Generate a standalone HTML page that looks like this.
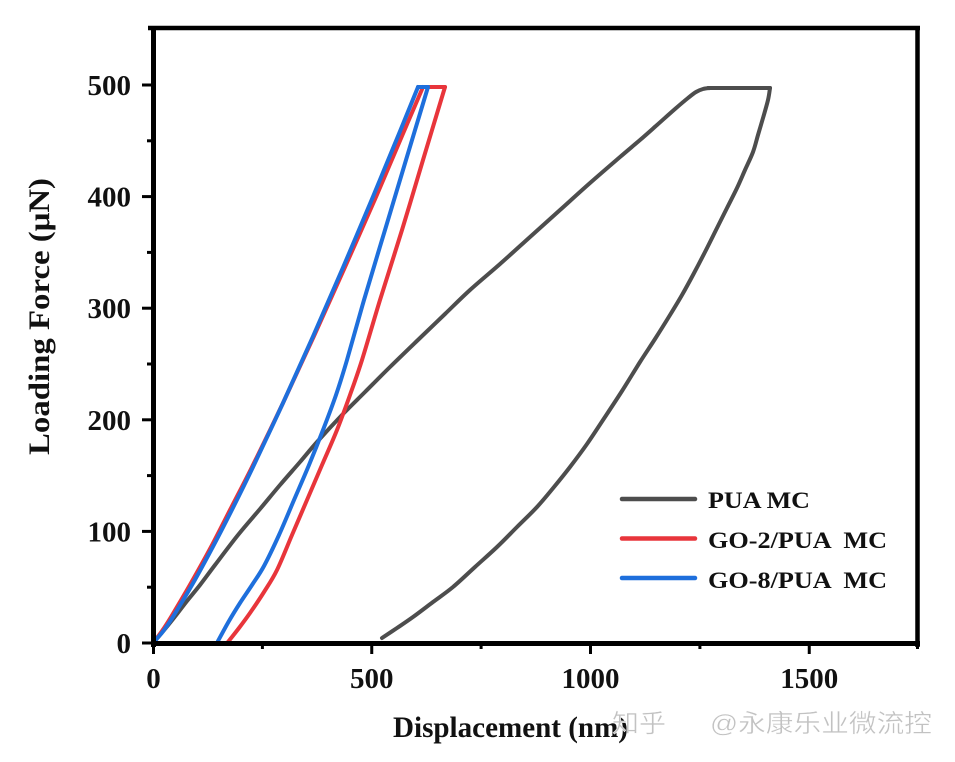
<!DOCTYPE html>
<html>
<head>
<meta charset="utf-8">
<style>
  html, body { margin: 0; padding: 0; background: #ffffff; }
  svg { display: block; }
  .lbl { font-family: "Liberation Serif", serif; font-weight: bold; fill: #111; }
</style>
</head>
<body>
<svg id="chart" width="955" height="762" viewBox="0 0 955 762" xmlns="http://www.w3.org/2000/svg">
  <rect x="0" y="0" width="955" height="762" fill="#ffffff"/>

  <!-- curves -->
  <g fill="none" stroke-width="4" stroke-linejoin="round" stroke-linecap="round">
    <!-- PUA MC -->
    <polyline class="smooth" stroke="#4d4d4d" points="153,643 165,629 177,614 187,601 200,585 215,565 238,535 260,509 280,485 300,462 317,442 342,415 365,392 390,367 420,338 445,314 470,290 500,264 530,237 560,210 590,183 620,157 640,140 657,125 675,109 688,98 696,92 703,89 710,88"/>
    <line x1="708" y1="88" x2="770" y2="88" stroke="#4d4d4d"/>
    <polyline class="smooth" stroke="#4d4d4d" points="770,88 768,100 763,118 758,135 753,152 745,170 737,188 727,208 717,228 705,252 693,275 682,295 670,315 655,339 640,362 622,391 603,420 587,444 570,467 554,487 537,507 517,527 497,547 475,567 453,587 433,602 413,617 397,628 382,638"/>
    <!-- GO-2/PUA MC -->
    <polyline class="smooth" stroke="#e8353b" points="153,643 162,631 171,617 191,583 211,547 231,508 252,467 283,403 314,336 345,267 376,197 402,136 423,87"/>
    <line x1="423" y1="87" x2="445" y2="87" stroke="#e8353b"/>
    <polyline class="smooth" stroke="#e8353b" points="445,87 423,160 402,230 380,300 362,360 350,395 337,430 322,465 307,500 292,535 277,570 264,592 250,613 239,628 228,642"/>
    <!-- GO-8/PUA MC -->
    <polyline class="smooth" stroke="#1e6fdc" points="153,643 163,631.4 173,616.7 193,583.3 213,546.6 233,507.7 253,467 283,403 313,336.4 343,267.5 373,196.6 398,136.2 418,87"/>
    <line x1="418" y1="87" x2="428" y2="87" stroke="#1e6fdc"/>
    <polyline class="smooth" stroke="#1e6fdc" points="428,87 406,160 385,230 364,300 347,360 336,395 323,430 309,465 294,500 279,535 264,566 252,585 240,603 229,621 218,641"/>
  </g>

  <!-- frame -->
  <g stroke="#000" fill="none">
    <line x1="148" y1="28" x2="920" y2="28" stroke-width="4.5"/>
    <line x1="917.5" y1="26" x2="917.5" y2="647" stroke-width="4.5"/>
    <line x1="153.5" y1="26" x2="153.5" y2="647" stroke-width="5"/>
    <line x1="151" y1="643.5" x2="920" y2="643.5" stroke-width="5"/>
  </g>

  <!-- y ticks -->
  <g stroke="#000" stroke-width="3">
    <line x1="142" y1="643" x2="153" y2="643"/>
    <line x1="142" y1="531.4" x2="153" y2="531.4"/>
    <line x1="142" y1="419.8" x2="153" y2="419.8"/>
    <line x1="142" y1="308.2" x2="153" y2="308.2"/>
    <line x1="142" y1="196.6" x2="153" y2="196.6"/>
    <line x1="142" y1="85" x2="153" y2="85"/>
    <line x1="147" y1="587.2" x2="153" y2="587.2"/>
    <line x1="147" y1="475.6" x2="153" y2="475.6"/>
    <line x1="147" y1="364" x2="153" y2="364"/>
    <line x1="147" y1="252.4" x2="153" y2="252.4"/>
    <line x1="147" y1="140.8" x2="153" y2="140.8"/>
  </g>
  <!-- x ticks -->
  <g stroke="#000" stroke-width="3">
    <line x1="153.5" y1="643" x2="153.5" y2="654"/>
    <line x1="371.75" y1="643" x2="371.75" y2="654"/>
    <line x1="590.5" y1="643" x2="590.5" y2="654"/>
    <line x1="809.25" y1="643" x2="809.25" y2="654"/>
    <line x1="262.4" y1="643" x2="262.4" y2="649"/>
    <line x1="481.1" y1="643" x2="481.1" y2="649"/>
    <line x1="699.9" y1="643" x2="699.9" y2="649"/>
    <line x1="917.5" y1="643" x2="917.5" y2="649"/>
  </g>

  <!-- y tick labels -->
  <g class="lbl" font-size="29" text-anchor="end">
    <text x="131" y="653">0</text>
    <text x="131" y="541.4">100</text>
    <text x="131" y="429.8">200</text>
    <text x="131" y="318.2">300</text>
    <text x="131" y="206.6">400</text>
    <text x="131" y="95">500</text>
  </g>
  <!-- x tick labels -->
  <g class="lbl" font-size="29" text-anchor="middle">
    <text x="153.5" y="688">0</text>
    <text x="371.75" y="688">500</text>
    <text x="590.5" y="688">1000</text>
    <text x="809.25" y="688">1500</text>
  </g>

  <!-- axis titles -->
  <text class="lbl" x="393" y="737" font-size="30" textLength="235" lengthAdjust="spacingAndGlyphs">Displacement (nm)</text>
  <text class="lbl" transform="translate(49,455) rotate(-90)" x="0" y="0" font-size="30" textLength="277" lengthAdjust="spacingAndGlyphs">Loading Force (μN)</text>

  <!-- legend -->
  <g stroke-width="4.5" stroke-linecap="round">
    <line x1="622" y1="499" x2="695" y2="499" stroke="#4d4d4d"/>
    <line x1="622" y1="538.5" x2="695" y2="538.5" stroke="#e8353b"/>
    <line x1="622" y1="578" x2="695" y2="578" stroke="#1e6fdc"/>
  </g>
  <g class="lbl" font-size="23">
    <text x="708" y="508" textLength="102" lengthAdjust="spacingAndGlyphs">PUA MC</text>
    <text x="708" y="548" textLength="179" lengthAdjust="spacingAndGlyphs" xml:space="preserve">GO-2/PUA  MC</text>
    <text x="708" y="588" textLength="179" lengthAdjust="spacingAndGlyphs" xml:space="preserve">GO-8/PUA  MC</text>
  </g>

  <!-- watermark -->
  <g font-family="'Liberation Sans', 'Noto Sans CJK SC', sans-serif" font-size="25" fill="#c2c2c2" stroke="#ffffff" stroke-width="0.4">
    <text x="612" y="732" textLength="54" lengthAdjust="spacingAndGlyphs">知乎</text>
    <text x="710" y="732" textLength="222" lengthAdjust="spacingAndGlyphs">@永康乐业微流控</text>
  </g>
</svg>
<script>
(function(){
  var NS = "http://www.w3.org/2000/svg";
  var polys = document.querySelectorAll("polyline.smooth");
  for (var k = 0; k < polys.length; k++) {
    var pl = polys[k];
    var raw = pl.getAttribute("points").trim().split(/\s+/);
    var p = raw.map(function(s){ var a = s.split(","); return [parseFloat(a[0]), parseFloat(a[1])]; });
    if (p.length < 3) continue;
    var d = "M" + p[0][0] + "," + p[0][1];
    for (var i = 0; i < p.length - 1; i++) {
      var p0 = p[i - 1] || p[i], p1 = p[i], p2 = p[i + 1], p3 = p[i + 2] || p[i + 1];
      var c1x = p1[0] + (p2[0] - p0[0]) / 6, c1y = p1[1] + (p2[1] - p0[1]) / 6;
      var c2x = p2[0] - (p3[0] - p1[0]) / 6, c2y = p2[1] - (p3[1] - p1[1]) / 6;
      d += " C" + c1x.toFixed(2) + "," + c1y.toFixed(2) + " " + c2x.toFixed(2) + "," + c2y.toFixed(2) + " " + p2[0] + "," + p2[1];
    }
    var path = document.createElementNS(NS, "path");
    path.setAttribute("d", d);
    path.setAttribute("stroke", pl.getAttribute("stroke"));
    path.setAttribute("fill", "none");
    pl.parentNode.replaceChild(path, pl);
  }
})();
</script>
</body>
</html>
